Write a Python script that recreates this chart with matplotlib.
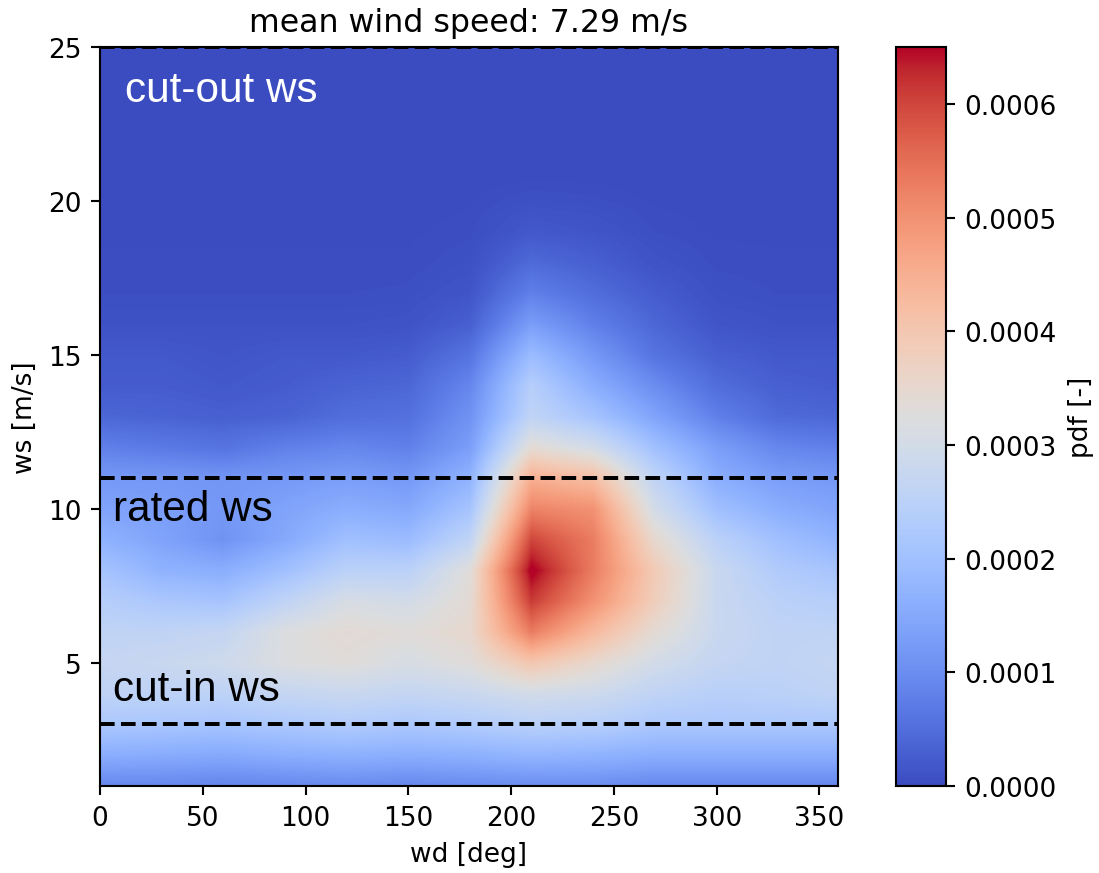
import numpy as np
import matplotlib
matplotlib.use('Agg')
import matplotlib.pyplot as plt

# grid nodes
wd_centres = np.arange(0, 361, 30)       # deg
ws_centres = np.arange(1, 26, 1)         # m/s

# pdf values (x 1e-4), one row per wind speed, columns = wd_centres
#            0    30   60   90   120  150  180  210  240  270  300  330  360
pdf_rows = [
    [0.9, 0.9, 0.85, 0.9, 0.95, 0.9, 0.95, 1.0, 1.0, 0.9, 0.9, 0.9, 0.9],     # 1
    [1.6, 1.55, 1.5, 1.6, 1.65, 1.6, 1.65, 1.75, 1.7, 1.6, 1.6, 1.6, 1.6],    # 2
    [2.2, 2.15, 2.1, 2.2, 2.3, 2.2, 2.3, 2.45, 2.4, 2.2, 2.2, 2.2, 2.2],      # 3
    [2.6, 2.55, 2.55, 2.7, 2.8, 2.7, 2.8, 3.0, 2.9, 2.6, 2.45, 2.5, 2.6],     # 4
    [2.7, 2.8, 2.9, 3.2, 3.3, 3.1, 3.3, 4.0, 3.5, 3.0, 2.7, 2.6, 2.7],        # 5
    [2.6, 2.6, 2.7, 3.2, 3.4, 3.3, 3.5, 5.3, 4.3, 3.4, 2.8, 2.6, 2.6],        # 6
    [2.4, 2.2, 2.1, 2.6, 3.1, 3.0, 3.4, 6.1, 5.0, 3.8, 2.8, 2.5, 2.4],        # 7
    [2.1, 1.7, 1.6, 2.0, 2.5, 2.5, 3.3, 6.6, 5.3, 3.9, 2.8, 2.3, 2.1],        # 8
    [1.7, 1.4, 1.1, 1.5, 2.0, 1.9, 2.6, 6.0, 5.3, 3.5, 2.5, 2.0, 1.7],        # 9
    [1.4, 1.3, 1.2, 1.4, 1.6, 1.5, 2.1, 5.2, 5.0, 3.0, 2.0, 1.6, 1.4],        # 10
    [1.2, 1.2, 1.15, 1.2, 1.3, 1.2, 1.7, 4.5, 4.2, 2.6, 1.6, 1.3, 1.2],       # 11
    [0.8, 0.7, 0.6, 0.8, 0.9, 0.8, 1.3, 3.4, 3.0, 2.0, 1.3, 0.9, 0.8],        # 12
    [0.4, 0.35, 0.3, 0.35, 0.5, 0.55, 1.1, 2.6, 2.1, 1.4, 0.8, 0.45, 0.4],    # 13
    [0.25, 0.25, 0.2, 0.25, 0.35, 0.4, 0.9, 2.4, 1.6, 1.0, 0.5, 0.3, 0.25],   # 14
    [0.2, 0.2, 0.15, 0.2, 0.2, 0.25, 0.6, 1.9, 1.2, 0.6, 0.3, 0.2, 0.2],      # 15
    [0.1, 0.1, 0.1, 0.1, 0.1, 0.12, 0.3, 1.3, 0.8, 0.4, 0.15, 0.1, 0.1],      # 16
    [0.05, 0.05, 0.05, 0.05, 0.05, 0.06, 0.15, 0.8, 0.5, 0.25, 0.08, 0.05, 0.05],  # 17
    [0.03, 0.03, 0.03, 0.03, 0.03, 0.03, 0.08, 0.45, 0.3, 0.12, 0.04, 0.03, 0.03],  # 18
    [0.02, 0.02, 0.02, 0.02, 0.02, 0.02, 0.04, 0.2, 0.15, 0.05, 0.02, 0.02, 0.02],  # 19
    [0.01, 0.01, 0.01, 0.01, 0.01, 0.01, 0.02, 0.08, 0.06, 0.02, 0.01, 0.01, 0.01],  # 20
    [0.0] * 13,  # 21
    [0.0] * 13,  # 22
    [0.0] * 13,  # 23
    [0.0] * 13,  # 24
    [0.0] * 13,  # 25
]

mean_ws = 7.29
ws_cut_in = 3
ws_rated = 11
ws_cut_out = 25

pdf = np.array(pdf_rows) * 1e-4

dpi = 190
fig = plt.figure(figsize=(1099 / dpi, 874 / dpi), dpi=dpi)
ax = fig.add_axes([0.091, 0.0995, 0.6715, 0.8455])
cax = fig.add_axes([0.815, 0.0995, 0.046, 0.8455])

dx = wd_centres[1] - wd_centres[0]
dy = ws_centres[1] - ws_centres[0]
im = ax.imshow(pdf, origin='lower', aspect='auto', cmap='coolwarm',
               interpolation='bilinear', vmin=0, vmax=6.5e-4,
               extent=[wd_centres[0] - dx / 2, wd_centres[-1] + dx / 2,
                       ws_centres[0] - dy / 2, ws_centres[-1] + dy / 2])

for ws in [ws_cut_in, ws_rated, ws_cut_out]:
    ax.axhline(ws, color='k', linestyle='--', linewidth=1.5)

ax.set_xlim(0, 359)
ax.set_ylim(1, 25)

txt = dict(fontsize=16, family='Liberation Sans', ha='left', va='center')
ax.text(12, 23.6, 'cut-out ws', color='white', **txt)
ax.text(6.5, 10.0, 'rated ws', color='black', **txt)
ax.text(6.5, 4.15, 'cut-in ws', color='black', **txt)

ax.set_xlabel('wd [deg]')
ax.set_ylabel('ws [m/s]')
ax.set_title(f'mean wind speed: {mean_ws} m/s', fontsize=12)

cb = fig.colorbar(im, cax=cax)
cb.set_label('pdf [-]')

fig.savefig('out.png', dpi=dpi)
